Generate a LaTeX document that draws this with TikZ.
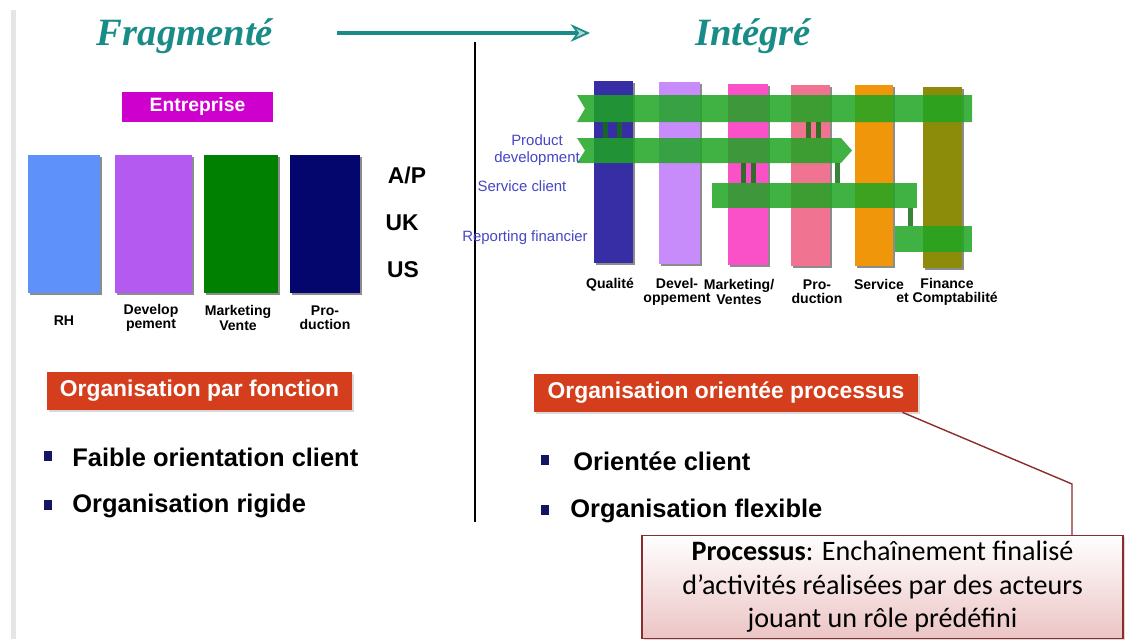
\documentclass[tikz,border=0pt]{standalone}
\usepackage{fontspec}
\setmainfont{Liberation Serif}
\setsansfont{Liberation Sans}
\newfontfamily\calib{Carlito}
\usetikzlibrary{arrows.meta,shadows}
\definecolor{tealttl}{RGB}{25,140,135}
\definecolor{magbox}{RGB}{205,0,205}
\definecolor{orgred}{RGB}{212,62,28}
\definecolor{cRH}{RGB}{95,145,250}
\definecolor{cDev}{RGB}{180,90,240}
\definecolor{cMkt}{RGB}{0,128,0}
\definecolor{cProd}{RGB}{5,5,110}
\definecolor{cQual}{RGB}{55,45,165}
\definecolor{cDevel}{RGB}{200,140,250}
\definecolor{cMark}{RGB}{250,80,200}
\definecolor{cProdu}{RGB}{240,115,145}
\definecolor{cServ}{RGB}{240,150,10}
\definecolor{cFin}{RGB}{140,140,10}
\definecolor{bandgreen}{RGB}{30,165,35}
\definecolor{stubgreen}{RGB}{20,110,20}
\definecolor{bandtxt}{RGB}{70,70,200}
\definecolor{navybul}{RGB}{20,20,100}
\definecolor{callbord}{RGB}{140,45,45}
\definecolor{callpink}{RGB}{236,196,196}

\begin{document}
\begin{tikzpicture}[x=0.02cm, y=-0.02cm,
    ttl/.style={font=\rmfamily\bfseries\itshape\fontsize{22}{26}\selectfont, text=tealttl},
    colbar/.style={fill=#1, drop shadow={shadow xshift=1.3pt, shadow yshift=-1.3pt, opacity=.45, fill=black}},
    barlbl/.style={font=\sffamily\bfseries\fontsize{8}{8.2}\selectfont, align=center, inner sep=0pt},
    region/.style={font=\sffamily\bfseries\fontsize{13}{15}\selectfont},
    orgbox/.style={fill=orgred, text=white, font=\sffamily\bfseries\fontsize{13}{15}\selectfont,
        minimum height=0.76cm, drop shadow={shadow xshift=1pt, shadow yshift=-1pt, opacity=.3}},
    bullet/.style={fill=navybul, minimum width=4.5pt, minimum height=5.5pt, inner sep=0pt},
    item/.style={font=\sffamily\bfseries\fontsize{14.5}{17}\selectfont, anchor=west, inner sep=0pt},
    band/.style={fill=bandgreen, fill opacity=.85},
    stub/.style={fill=stubgreen, fill opacity=.85},
    bandlbl/.style={font=\sffamily\fontsize{8.5}{9.5}\selectfont, text=bandtxt, align=center, inner sep=0pt},
    callout/.style={draw=callbord, line width=.8pt, top color=white, bottom color=callpink,
        minimum width=9.62cm, minimum height=2.0cm, align=center,
        font=\calib\fontsize{16}{19}\selectfont,
        drop shadow={shadow xshift=1pt, shadow yshift=-1pt, opacity=.3}}]

    % page and left edge
    \useasboundingbox (0,0) rectangle (1125,639);
    \fill[white] (0,0) rectangle (1125,639);
    \fill[black!10] (11,10) rectangle (16,639);

    % titles with the arrow between them
    \node[ttl] (frag) at (185,36) {Fragmenté};
    \node[ttl] (integ) at (753,36) {Intégré};
    \coordinate (arrS) at (337,33);
    \coordinate (arrE) at (590,33);
    \draw[tealttl, line width=2.3pt, -{Stealth[fill=tealttl!35, line width=1pt, length=11pt, width=10pt]}] (arrS) -- (arrE);

    % divider
    \coordinate (divT) at (475,42);
    \coordinate (divB) at (475,522);
    \draw[line width=1.1pt] (divT) -- (divB);

    % left: functional organisation
    \node[fill=magbox, text=white, font=\sffamily\bfseries\fontsize{11}{13}\selectfont,
        minimum width=3.02cm, minimum height=0.6cm] (entr) at (197.5,107) {Entreprise};
    \foreach \xa/\xb/\col in {28/100/cRH, 115/192/cDev, 204/278/cMkt, 290/360/cProd}
        \fill[colbar=\col] (\xa,155) rectangle (\xb,293);

    \node[region] (rAP) at (407,175) {A/P};
    \node[region] (rUK) at (402,223) {UK};
    \node[region] (rUS) at (403,270) {US};

    \node[barlbl] (lRH) at (64,321) {RH};
    \node[barlbl] (lDev) at (151,318) {Develop\\pement};
    \node[barlbl] (lMkt) at (238,318) {Marketing\\Vente};
    \node[barlbl] (lProd) at (325,318) {Pro-\\duction};

    % right: process organisation
    \foreach \xa/\xb/\ya/\yb/\col in {594/633/81/263/cQual, 659/700/82/264/cDevel, 728/768/84/265/cMark,
        791/830/85/266/cProdu, 855/893/85/266/cServ, 923/962/87/268/cFin}
        \fill[colbar=\col] (\xa,\ya) rectangle (\xb,\yb);

    % process bands
    \fill[band] (577,95) -- (972,95) -- (972,122) -- (577,122) -- (585,108.5) -- cycle;
    \fill[band] (577,138) -- (841,138) -- (852,150.5) -- (841,163) -- (577,163) -- (585,150.5) -- cycle;
    \fill[band] (712,183) rectangle (917,208);
    \fill[band] (895,226) rectangle (972,252);
    \foreach \xa/\ya/\yb in {603/122/138, 617/122/138, 806/122/138, 816/122/138,
        741/163/183, 751/163/183, 835/163/183, 908/208/226}
        \fill[stub] (\xa,\ya) rectangle (\xa+5,\yb);

    \node[bandlbl] (pdev) at (537,150) {Product\\development};
    \node[bandlbl] (scli) at (522,186) {Service client};
    \node[bandlbl] (rfin) at (525,238) {Reporting financier};

    \node[barlbl] (lQual) at (610,285) {Qualité};
    \node[barlbl] (lDevel) at (677,292) {Devel-\\oppement};
    \node[barlbl] (lMark) at (739,292) {Marketing/\\Ventes};
    \node[barlbl] (lProdu) at (817,292) {Pro-\\duction};
    \node[barlbl] (lServ) at (879,284) {Service};
    \node[barlbl] (lFin) at (947,292) {Finance\\et Comptabilité};

    % organisation boxes and bullets
    \node[orgbox, minimum width=6.1cm] (fbox) at (199.5,391) {Organisation par fonction};
    \node[orgbox, minimum width=7.68cm] (pbox) at (726,393) {Organisation orientée processus};

    \node[bullet] (bu1) at (48,456) {};
    \node[item] (it1) at (72,457) {Faible orientation client};
    \node[bullet] (bu2) at (48,505) {};
    \node[item] (it2) at (72,506) {Organisation rigide};
    \node[bullet] (bu3) at (545,460) {};
    \node[item] (it3) at (573,461) {Orientée client};
    \node[bullet] (bu4) at (545,510) {};
    \node[item] (it4) at (570,511) {Organisation flexible};

    % definition callout
    \node[callout] (defn) at (882.5,587) {\textbf{Processus}: Enchaînement finalisé\\d’activités réalisées par des acteurs\\jouant un rôle prédéfini};
    \coordinate (bend) at (1072,484);
    \draw[callbord, line width=.8pt] ([xshift=-9pt]pbox.south east) -- (bend) -- (bend |- defn.north);

\end{tikzpicture}
\end{document}
